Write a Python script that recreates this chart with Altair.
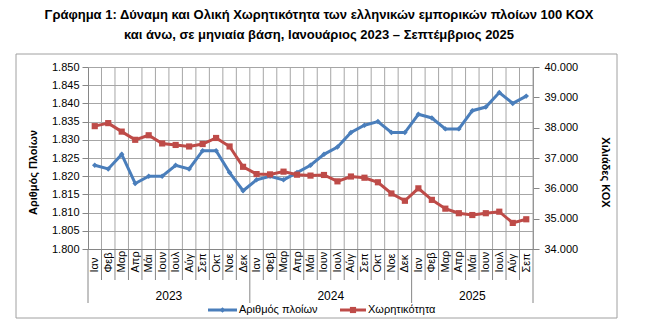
import altair as alt
import pandas as pd

# ---------------- data ----------------
title_lines = [
    "Γράφημα 1: Δύναμη και Ολική Χωρητικότητα των ελληνικών εμπορικών πλοίων 100 ΚΟΧ",
    "και άνω, σε μηνιαία βάση, Ιανουάριος 2023 – Σεπτέμβριος 2025",
]
month_names = ["Ιαν", "Φεβ", "Μαρ", "Απρ", "Μάι", "Ιουν", "Ιουλ", "Αύγ", "Σεπ", "Οκτ", "Νοε", "Δεκ"]
years = ["2023", "2024", "2025"]
months_per_year = [12, 12, 9]

ships = [1823, 1822, 1826, 1818, 1820, 1820, 1823, 1822, 1827, 1827, 1821, 1816,
         1819, 1820, 1819, 1821, 1823, 1826, 1828, 1832, 1834, 1835, 1832, 1832,
         1837, 1836, 1833, 1833, 1838, 1839, 1843, 1840, 1842]
tonnage = [38050, 38150, 37870, 37600, 37750, 37480, 37430, 37380, 37460, 37660, 37380, 36710,
           36470, 36460, 36550, 36450, 36420, 36440, 36230, 36390, 36350, 36200, 35830, 35590,
           36000, 35620, 35330, 35180, 35120, 35180, 35230, 34860, 34980]

series_names = ["Αριθμός πλοίων", "Χωρητικότητα"]
left_title = "Αριθμός Πλοίων"
right_title = "Χιλιάδες ΚΟΧ"
left_ticks = list(range(1800, 1851, 5))
right_ticks = list(range(34000, 40001, 1000))

# ---------------- styling ----------------
FONT = "Liberation Sans"
BLUE = "#4A7EBB"
RED = "#BE4B48"
GRID = "#A6A6A6"
AXIS = "#868686"
W, H = 445, 182

labels = [m for k in months_per_year for m in month_names[:k]]
n = len(labels)
df = pd.DataFrame({"pos": [i + 0.5 for i in range(n)], "label": labels,
                   "ships": ships, "tonnage": tonnage})

year_starts = [sum(months_per_year[:i]) for i in range(len(years) + 1)]
bounds = pd.DataFrame({"b": list(range(n + 1))})
bounds["year"] = bounds["b"].isin(year_starts)
year_df = pd.DataFrame({
    "year": years,
    "c": [(year_starts[i] + year_starts[i + 1]) / 2 for i in range(len(years))],
})

xscale = alt.Scale(domain=[0, n], nice=False, zero=False)
label_arr = "[" + ",".join("'" + s + "'" for s in labels) + "]"
x_axis = alt.Axis(
    values=[i + 0.5 for i in range(n)],
    labelExpr=label_arr + "[floor(datum.value)]",
    labelAngle=270, labelAlign="left", labelBaseline="middle",
    labelPadding=23, ticks=False, grid=False, title=None,
    labelFont=FONT, labelFontSize=11, labelColor="#000000",
    domainColor=AXIS, labelOverlap=False, labelFlush=False,
)
fmt = "replace(format(datum.value, ','), ',', '.')"

one = pd.DataFrame({"k": [0]})

BL, BR, BT, BB = -72, 529, -13, 251
BCOL = "#A0A0A0"
border = alt.layer(
    alt.Chart(one).mark_rule(color=BCOL, strokeWidth=1).encode(
        x=alt.value(BL), x2=alt.value(BR), y=alt.value(BT)),
    alt.Chart(one).mark_rule(color=BCOL, strokeWidth=1).encode(
        x=alt.value(BL), x2=alt.value(BR), y=alt.value(BB)),
    alt.Chart(one).mark_rule(color=BCOL, strokeWidth=1).encode(
        x=alt.value(BL), y=alt.value(BT), y2=alt.value(BB)),
    alt.Chart(one).mark_rule(color=BCOL, strokeWidth=1).encode(
        x=alt.value(BR), y=alt.value(BT), y2=alt.value(BB)),
)

vgrid = alt.Chart(bounds).transform_filter("datum.b > 0").mark_rule(
    color=GRID, strokeWidth=1).encode(
    x=alt.X("b:Q", scale=xscale, axis=x_axis), y=alt.value(0), y2=alt.value(H))

seps_month = alt.Chart(bounds).transform_filter("!datum.year").mark_rule(
    color=AXIS, strokeWidth=1).encode(
    x=alt.X("b:Q", scale=xscale, axis=x_axis), y=alt.value(H), y2=alt.value(H + 31))
seps_year = alt.Chart(bounds).transform_filter("datum.year").mark_rule(
    color=AXIS, strokeWidth=1).encode(
    x=alt.X("b:Q", scale=xscale, axis=x_axis), y=alt.value(H), y2=alt.value(H + 54))

year_text = alt.Chart(year_df).mark_text(font=FONT, fontSize=12, color="#000000",
                                         baseline="middle").encode(
    x=alt.X("c:Q", scale=xscale, axis=x_axis), y=alt.value(H + 47), text="year:N")

base = alt.Chart(df)
ship_axis = alt.Axis(
    values=left_ticks, labelExpr=fmt, grid=True, gridColor=GRID, gridWidth=1,
    tickSize=6, tickColor=AXIS, domainColor=AXIS, labelPadding=3,
    labelFont=FONT, labelFontSize=11, labelColor="#000000",
    title=left_title, titleFont=FONT, titleFontSize=11, titleFontWeight="bold",
    titleColor="#000000", titleAngle=-90, titleX=-55, titleY=105,
    titleBaseline="middle", titleAlign="center",
)
ton_axis = alt.Axis(
    orient="right", values=right_ticks, labelExpr=fmt, grid=False,
    tickSize=6, tickColor=AXIS, domainColor=AXIS, labelPadding=5,
    labelFont=FONT, labelFontSize=11, labelColor="#000000",
    title=right_title, titleFont=FONT, titleFontSize=11, titleFontWeight="bold",
    titleColor="#000000", titleAngle=90, titleX=71, titleY=105,
    titleBaseline="middle", titleAlign="center",
)
yl = alt.Y("ships:Q", scale=alt.Scale(domain=[1800, 1850], nice=False, zero=False), axis=ship_axis)
yr = alt.Y("tonnage:Q", scale=alt.Scale(domain=[34000, 40000], nice=False, zero=False), axis=ton_axis)
xe = alt.X("pos:Q", scale=xscale, axis=x_axis)

blue = alt.layer(
    base.mark_line(color=BLUE, strokeWidth=3).encode(x=xe, y=yl),
    base.mark_point(shape="diamond", filled=True, size=30, color=BLUE, opacity=1).encode(x=xe, y=yl),
)
red = alt.layer(
    base.mark_line(color=RED, strokeWidth=3).encode(x=xe, y=yr),
    base.mark_point(shape="square", filled=True, size=38, color=RED, opacity=1).encode(x=xe, y=yr),
)

titles = alt.layer(*[
    alt.Chart(pd.DataFrame({"t": [t]})).mark_text(
        font=FONT, fontSize=13, fontWeight="bold", color="#000000",
        align="center", baseline="middle").encode(
        text="t:N", x=alt.value(231), y=alt.value(yy))
    for t, yy in zip(title_lines, [-52, -32])
])

LY = 243
legend = alt.layer(
    alt.Chart(one).mark_rule(color=BLUE, strokeWidth=3).encode(
        x=alt.value(120), x2=alt.value(149), y=alt.value(LY)),
    alt.Chart(one).mark_point(shape="diamond", filled=True, size=30, color=BLUE, opacity=1).encode(
        x=alt.value(134.5), y=alt.value(LY)),
    alt.Chart(pd.DataFrame({"t": [series_names[0]]})).mark_text(
        font=FONT, fontSize=11, align="left", baseline="middle", color="#000000").encode(
        text="t:N", x=alt.value(151), y=alt.value(LY)),
    alt.Chart(one).mark_rule(color=RED, strokeWidth=3).encode(
        x=alt.value(252), x2=alt.value(278), y=alt.value(LY)),
    alt.Chart(one).mark_point(shape="square", filled=True, size=38, color=RED, opacity=1).encode(
        x=alt.value(265), y=alt.value(LY)),
    alt.Chart(pd.DataFrame({"t": [series_names[1]]})).mark_text(
        font=FONT, fontSize=11, align="left", baseline="middle", color="#000000").encode(
        text="t:N", x=alt.value(280), y=alt.value(LY)),
)

chart = alt.layer(
    border, vgrid, seps_month, seps_year, year_text, blue, red, titles, legend
).resolve_scale(y="independent").properties(
    width=W, height=H,
    padding={"left": 88, "top": 67, "right": 650 - 88 - W, "bottom": 331 - 67 - H},
    autosize=alt.AutoSizeParams(type="none"),
    background="#FFFFFF",
).configure_view(stroke=None)

chart.save("out.html", embed_options={"renderer": "svg", "actions": False})
